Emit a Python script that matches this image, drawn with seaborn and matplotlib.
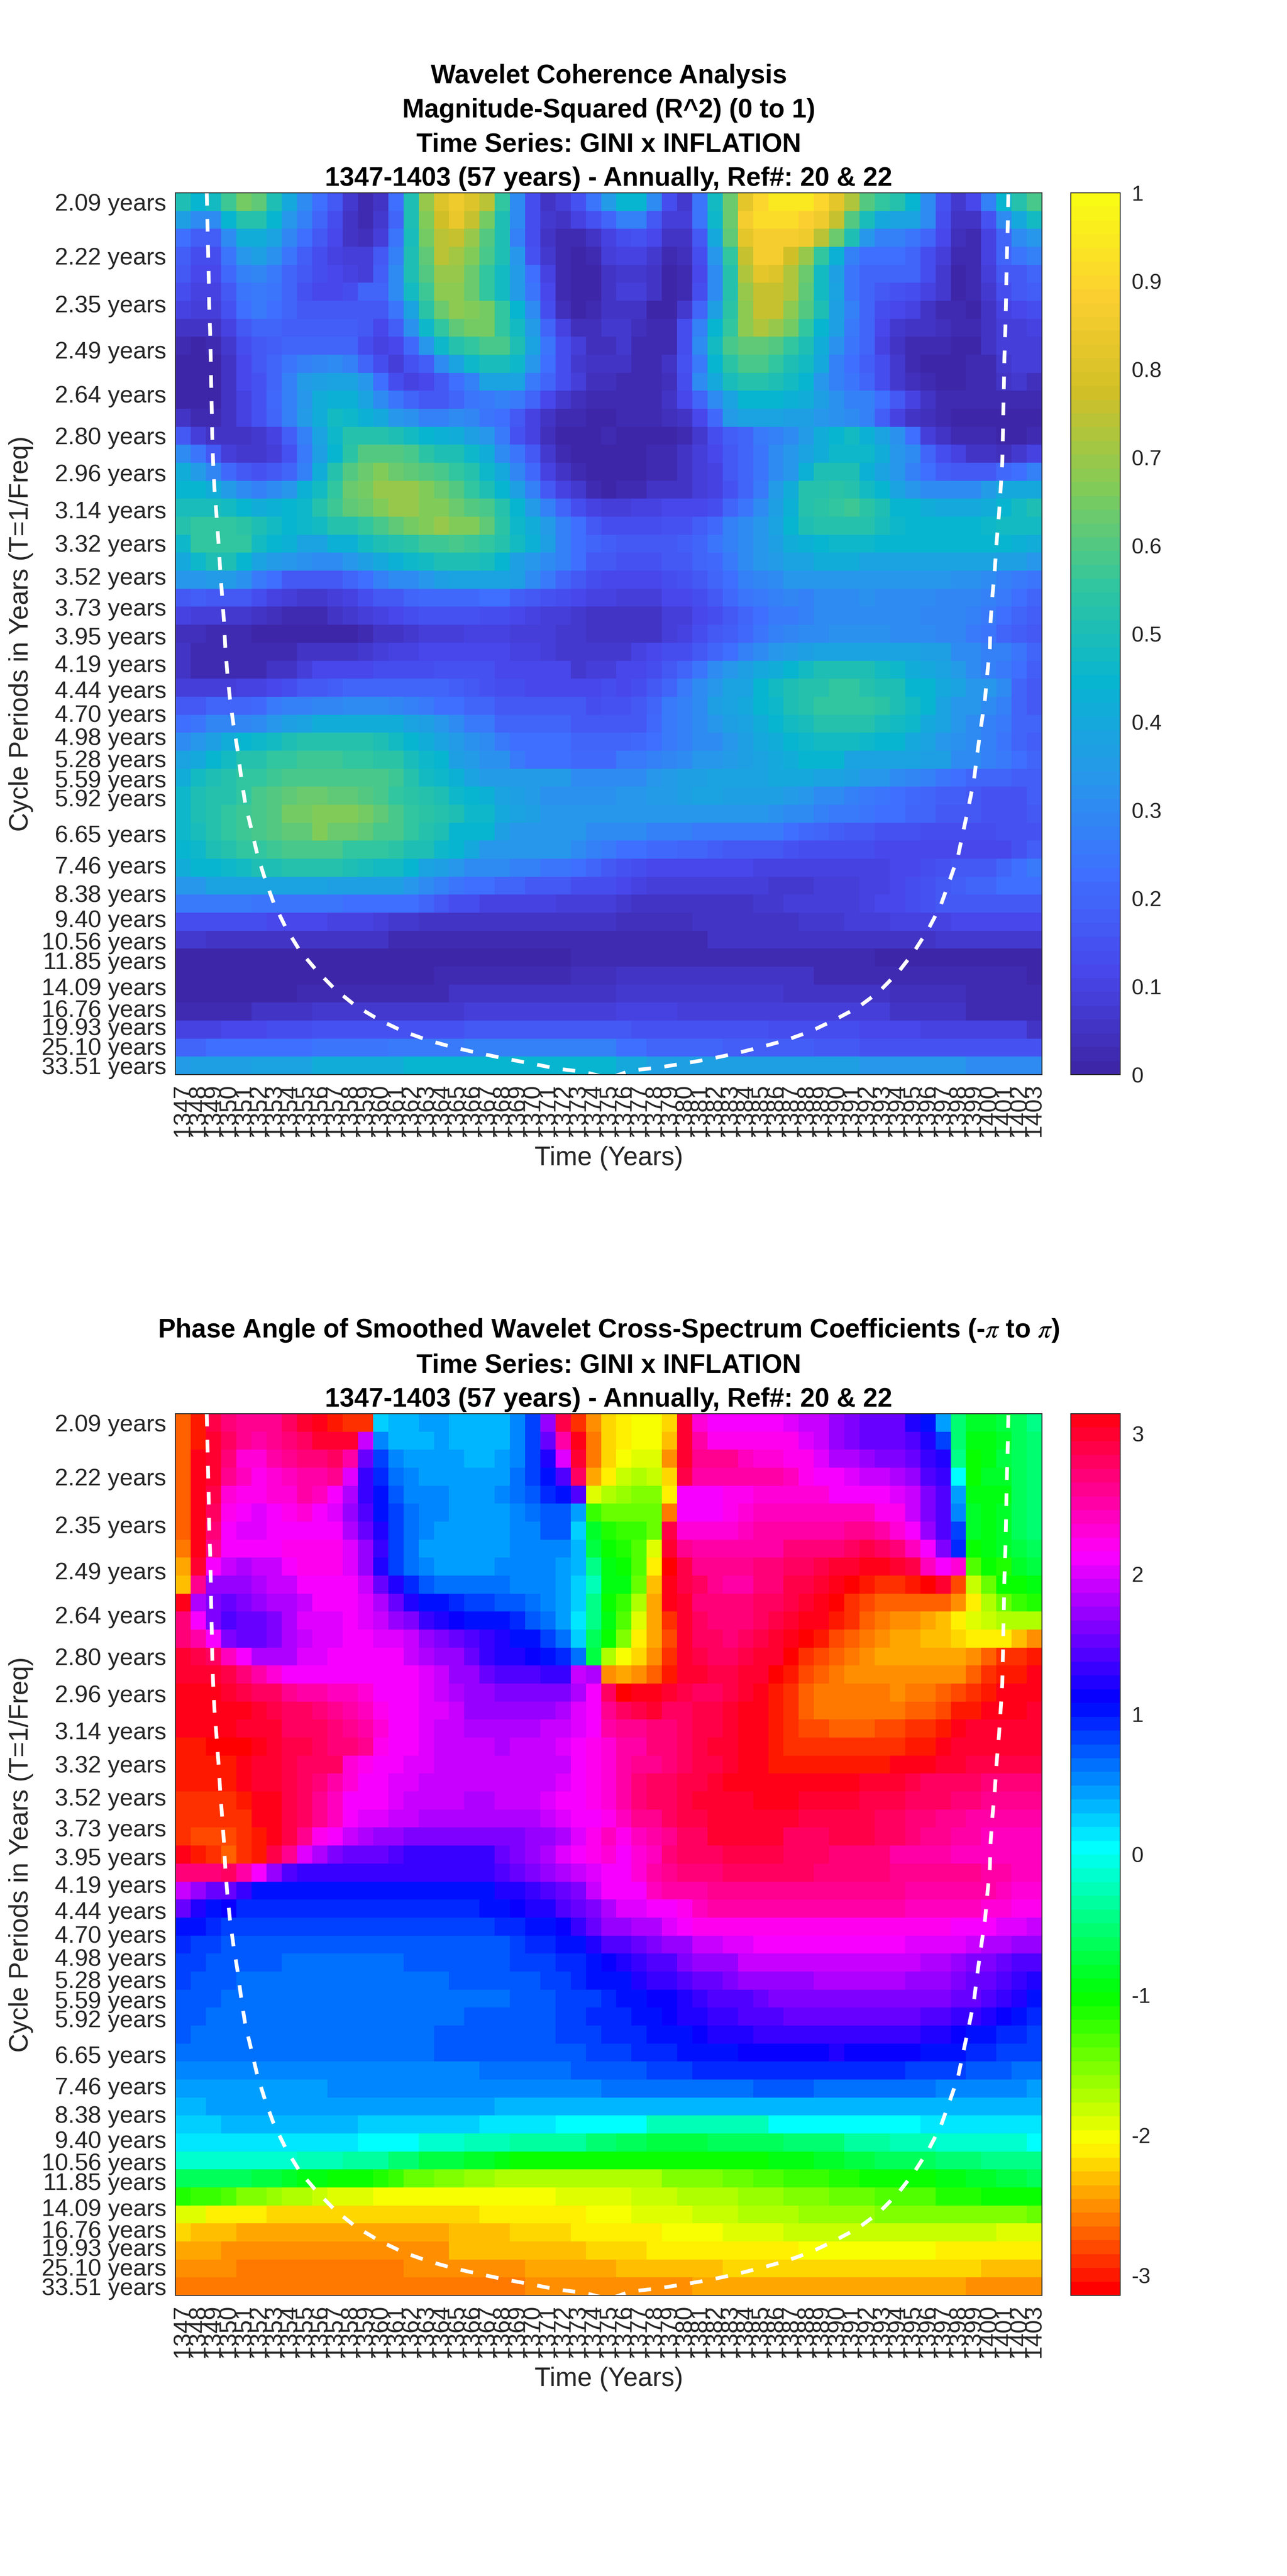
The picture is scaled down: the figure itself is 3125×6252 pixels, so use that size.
import matplotlib
matplotlib.use('Agg')
import matplotlib.pyplot as plt
import numpy as np
import pandas as pd
import seaborn as sns
from matplotlib.colors import LinearSegmentedColormap, ListedColormap, hsv_to_rgb

sns.set_style('white')
plt.rcParams['font.family'] = ['Liberation Sans', 'DejaVu Sans']
plt.rcParams['mathtext.fontset'] = 'stix'

YEARS = list(range(1347, 1404))
PERIODS = [2.09, 2.22, 2.35, 2.49, 2.64, 2.80, 2.96, 3.14, 3.32, 3.52, 3.73, 3.95, 4.19, 4.44, 4.70, 4.98, 5.28,
           5.59, 5.92, 6.27, 6.65, 7.04, 7.46, 7.90, 8.38, 8.88, 9.40, 9.96, 10.56, 11.18, 11.85, 12.55, 13.30,
           14.09, 14.93, 15.82, 16.76, 17.75, 18.81, 19.93, 21.12, 22.37, 23.70, 25.10, 26.61, 28.18, 29.86,
           31.63, 33.51]
UNLABELLED = [6.27, 7.04, 7.90, 8.88, 9.96, 11.18, 12.55, 13.30, 14.93, 15.82, 17.75, 18.81, 21.12, 22.37,
              23.70, 26.61, 28.18, 29.86, 31.63]

# cone of influence
COI_YEARS = [1348.56, 1348.61, 1348.65, 1348.69, 1348.72, 1348.78, 1348.82, 1348.85, 1348.89, 1348.92, 1348.98,
             1349.07, 1349.20, 1349.33, 1349.44, 1349.56, 1349.69, 1349.78, 1349.91, 1350.09, 1350.33, 1350.60,
             1350.82, 1351.09, 1351.51, 1351.90, 1352.43, 1352.97, 1353.79, 1354.70, 1355.80, 1356.98, 1358.35,
             1359.90, 1361.45, 1363.09, 1364.73, 1366.46, 1368.20, 1369.93, 1371.57, 1373.39, 1375.00, 1376.46,
             1378.19, 1379.92, 1381.56, 1383.30, 1384.99, 1386.67, 1388.31, 1389.86, 1391.41, 1392.78, 1394.05,
             1395.05, 1396.00, 1396.82, 1397.39, 1397.97, 1398.34, 1398.70, 1399.03, 1399.25, 1399.52, 1399.76,
             1399.92, 1400.07, 1400.12, 1400.25, 1400.40, 1400.52, 1400.67, 1400.78, 1400.89, 1400.93, 1400.96,
             1401.00, 1401.03, 1401.09, 1401.13, 1401.16, 1401.20, 1401.25, 1401.29]
COI_PERIODS = [2.07, 2.146, 2.211, 2.28, 2.354, 2.43, 2.516, 2.604, 2.702, 2.801, 2.916, 3.04, 3.166, 3.313, 3.475,
               3.64, 3.836, 4.048, 4.276, 4.544, 4.851, 5.18, 5.56, 6.023, 6.574, 7.193, 7.947, 8.76, 9.903, 11.2,
               12.64, 14.37, 16.42, 18.66, 20.96, 23.23, 25.38, 27.54, 29.92, 32.37, 35.36, 37.7, 43.0, 36.7, 34.8,
               32.37, 30.2, 27.75, 25.38, 23.23, 20.96, 18.66, 16.63, 14.67, 12.76, 11.29, 9.97, 8.88, 7.99, 7.23,
               6.574, 6.05, 5.61, 5.2, 4.82, 4.53, 4.26, 4.06, 3.84, 3.64, 3.475, 3.31, 3.166, 3.04, 2.916, 2.80,
               2.70, 2.604, 2.516, 2.43, 2.354, 2.28, 2.211, 2.146, 2.07]

# R^2 in hundredths, one row per period, one value per year
COHERENCE = [
    [50,45,47,57,65,62,51,40,31,23,17,7,3,5,22,50,70,80,85,80,74,56,30,13,5,8,15,24,35, 45,45,30,13,7,24,47,64,82,90,95,95,95,90,82,72,60,55,52,45,30,15,7,11,27,45,53,58],
    [36,30,30,44,52,52,45,34,28,20,13,5,3,7,20,50,66,77,83,75,65,50,30,13,7,5,10,15,20, 28,27,17,8,8,24,46,63,86,92,92,92,88,85,75,60,49,40,38,38,30,14,5,5,15,30,40,47],
    [22,18,18,30,42,42,38,29,22,16,11,5,4,9,24,49,65,74,75,70,60,50,28,13,6,3,3,5,10, 13,15,11,5,5,17,40,62,82,87,87,87,85,74,64,50,33,28,28,24,20,12,4,3,10,20,30,34],
    [18,14,13,24,33,36,32,24,18,13,10,8,8,16,28,50,62,74,71,66,58,50,33,15,7,3,1,3,8, 10,10,7,2,4,14,33,56,76,86,86,78,70,56,43,27,22,22,22,20,14,9,2,3,10,20,24,28],
    [16,12,12,21,27,29,26,20,17,13,11,10,9,18,30,50,60,70,70,64,56,48,35,22,10,2,0,0,6, 7,7,5,0,3,12,30,52,72,82,80,73,64,48,37,24,20,20,20,19,14,7,1,3,9,16,17,20],
    [14,10,10,17,24,26,24,19,15,11,11,14,20,20,31,48,57,68,68,64,56,47,35,24,12,3,0,0,5, 9,9,5,1,2,13,30,52,70,76,76,72,62,48,38,24,20,16,15,13,10,7,1,3,7,13,16,18],
    [10,8,8,15,22,25,23,19,16,16,16,16,16,17,24,38,54,63,68,67,65,55,44,30,14,4,1,2,5, 6,5,1,0,7,20,37,54,68,75,75,68,60,50,36,27,20,14,11,10,6,3,3,1,6,10,12,14],
    [6,5,6,10,16,20,19,18,18,18,18,18,16,12,18,32,46,55,62,65,65,56,48,35,20,10,4,4,7, 7,4,2,3,13,28,45,55,68,72,70,65,55,45,36,26,20,12,7,6,5,4,2,2,5,8,9,10],
    [3,1,3,7,13,17,18,20,20,20,20,19,14,10,12,21,33,46,52,55,58,58,50,38,24,14,8,4,4, 7,3,3,3,14,30,47,58,62,62,60,55,50,42,32,24,20,10,5,3,2,2,0,0,5,8,9,8],
    [0,0,1,6,12,17,19,24,28,29,30,28,19,13,9,15,18,30,38,46,49,49,46,33,22,13,7,5,5, 5,3,3,6,15,26,45,54,58,58,56,51,48,40,28,22,18,13,7,2,0,0,0,2,3,7,8,8],
    [0,0,1,6,12,15,20,27,35,37,39,38,33,22,14,10,12,16,22,28,39,39,38,26,19,13,8,4,4, 3,3,3,4,14,30,40,49,53,53,50,47,45,34,28,24,20,14,7,4,2,1,1,2,2,5,7,4],
    [0,0,1,5,10,15,21,28,34,41,43,43,38,31,24,19,17,17,20,24,26,27,26,19,11,7,4,2,2, 3,3,3,5,12,19,31,38,45,45,45,43,41,36,32,28,27,22,17,10,5,2,2,2,2,2,2,2],
    [6,3,3,6,10,15,20,28,35,42,48,46,43,40,34,32,27,28,30,29,24,22,17,10,5,3,2,1,1, 2,2,2,4,6,12,21,35,38,38,38,37,36,33,32,30,27,18,10,6,4,3,1,0,0,0,0,0],
    [16,9,6,5,5,7,10,18,28,38,46,53,53,53,50,48,45,43,42,37,34,26,15,10,4,0,0,0,3, 0,0,1,1,3,7,13,18,20,25,27,30,35,42,45,47,43,38,32,22,9,5,3,3,2,0,0,3],
    [31,24,17,9,7,7,8,15,26,36,45,54,60,60,60,58,54,51,50,46,42,31,24,16,7,2,1,0,0, 0,0,2,2,5,8,12,16,20,24,30,33,39,42,46,46,46,42,34,30,20,13,10,6,6,4,7,10],
    [41,35,29,21,17,15,16,19,28,42,53,60,64,67,63,62,60,58,55,52,46,40,29,21,10,5,3,1,0, 0,0,3,3,5,8,10,16,20,24,30,34,43,50,50,50,43,38,33,27,22,18,17,17,16,21,23,27],
    [45,45,42,35,30,28,31,33,43,48,56,63,65,69,70,70,67,64,60,55,50,44,36,28,17,10,7,3,0, 3,3,5,5,6,9,10,15,20,25,35,42,52,53,54,53,48,44,38,33,31,31,31,31,35,40,40,40],
    [49,49,49,47,44,42,43,45,46,53,57,61,63,67,70,70,67,66,64,60,58,53,44,35,27,20,13,10,8, 9,10,10,11,11,12,13,20,24,30,37,43,52,54,56,57,54,50,45,44,42,40,40,40,42,44,47,50],
    [53,55,56,55,54,50,47,44,46,48,52,53,56,58,62,65,66,70,66,66,62,54,46,42,35,27,22,17,14, 14,14,14,15,15,18,21,27,30,33,38,44,50,52,53,53,52,49,46,44,44,44,44,44,46,48,48,48],
    [46,55,56,56,55,48,45,43,39,39,43,43,47,50,53,54,57,57,58,57,55,53,47,43,36,28,23,20,18, 17,16,16,17,18,20,24,28,30,33,37,42,43,45,46,46,46,45,45,45,44,44,44,44,44,45,43,42],
    [40,46,50,50,45,38,35,33,32,31,31,33,36,40,43,46,47,50,50,50,49,45,37,34,31,27,22,17,16, 15,15,15,16,17,19,21,25,30,33,35,38,38,41,41,41,39,39,39,39,39,39,39,38,38,37,36,34],
    [33,34,35,35,32,26,22,17,16,16,17,19,23,27,30,31,33,36,38,38,38,38,36,31,25,19,16,13,12, 12,12,11,13,15,17,19,23,27,29,31,33,33,33,34,34,34,34,33,33,33,33,32,32,30,28,26,24],
    [17,18,17,17,16,13,10,8,7,7,9,10,14,16,17,19,21,21,21,21,22,22,18,16,15,13,12,10,10, 9,8,9,11,12,14,17,21,24,26,27,29,28,30,31,31,32,31,31,31,30,29,29,29,27,25,22,20],
    [10,9,8,7,7,5,4,2,2,3,5,7,8,10,12,14,15,15,15,15,14,13,12,10,9,8,7,6,6, 6,6,6,8,9,12,14,16,20,22,25,26,28,30,31,31,31,31,31,30,29,29,29,27,25,23,20,18],
    [4,4,3,2,2,1,1,0,0,0,1,1,3,5,6,7,8,9,9,10,10,10,9,8,8,7,7,6,6, 6,6,6,8,10,13,16,18,21,24,27,29,31,31,32,32,32,32,31,31,30,29,29,26,24,20,18,16],
    [5]+[2]*7+[5]*4+[7,8,10,10]+[12]*5+[11,10,10,8]+[7]*4+[7,10,12,13,14,17,20,23,27,31,34,35,37,38,38,38,38,38,38,38,37,37,31,30,28,27,24,20],
    [5]+[3]*5+[6]*2+[8]+[11]*4+[13]+[14]*3+[15]*4+[12]*2+[11]*3+[7]+[9]*2+[11,11,14,16,20,24,30,33,37,40,42,45,47,50,50,50,50,47,46,42,40,39,35,31,27,26,22,18],
    [8]*4+[10]*2+[12,14]+[17]*2+[18]+[19]*7+[18,16,15]+[13]*2+[12]*5+[14]+[12,13,16,20,25,30,34,38,39,45,47,51,53,53,55,55,52,50,50,45,45,40,38,34,33,31,20,17],
    [16]*2+[19]*2+[20,21,25,27,27,29,29]+[31]*3+[29,28,26,23,23,20,20]+[17]*5+[16,14,15]+[15,16,20,25,28,31,36,38,40,45,46,50,52,55,55,55,55,54,50,47,45,38,34,33,30,28,20,17],
    [22,24,29,29,29,31,34,36,39]+[41]*6+[38,36,33,30,25,25,20,20]+[19]*3+[17]*3+[17,17,21,25,28,31,33,36,39,41,45,47,49,52,52,52,52,49,47,46,40,38,33,30,28,26,20,19],
    [30,33,36,41,44,46,48,50]+[53]*5+[50,47,44,42,38,35,32,30,25,23]+[22]*3+[20]*3+[20,21,23,25,28,30,31,33,36,40,42,44,46,47,47,47,46,45,45,40,38,33,32,30,28,24,20,18],
    [38,40,45,47,52,53,55,55]+[57]*3+[56,56,54,54,49,46,45,36,35,32,32,25]+[22]*3+[21]*3+[25,25,28,29,30,33,34,35,37,38,40,42,44,45,44,39,39,39,39,38,37,36,30,30,28,26,22,19],
    [42,47,50,53,55,56,57]+[59]*4+[58]*3+[57,53,47,46,43,38]+[35]*6+[30]*3+[30,30,33,35,36,36,38,38,39,39,40,40,40,39,38,36,34,33,30,29,27,24,22,20,19,19,18,18],
    [46,50,52,53,56,58,60,61,64,64,62,62,60,59,56,54,52,50,46,45,43,39,37,35]+[32]*5+[34,34,35,35,36,38,38,37,37,37,36,35,33,31,30,27,25,24,22,21,20,18,18,16,15,15,15,18],
    [46,50,53,55,57,59,60,65,65,66,66,66,65,61,59,56,54,52,50,46,46,40,38,36]+[33]*5+[34]*7+[33,33,33,32,30,30,28,26,26,24,22,22,20,19,17,16,16,15,15,15,17],
    [46,49,52,55,57,59,60,62,62,66,63,63,62,59,58,55,52,50,45,44,44,37,34,34,34,34,33,31,31]+[31,30,27,27,27,26,25,25,25,25,25,22,21,20,18,16,16,15,15,15,14,13,13,13,13,15,15,15],
    [44,46,50,52,55,56,57,58,58,58,58,56,56,55,54,51,50,46,44,40,33,33,33,33,33,33,30,27,25]+[23,23,21,21,19,19,18,17,17,16,16,15,13,13,13,13,13,12,12,12,12,12,11,11,12,12,15,18],
    [41,44,45,46,47,50,50,52,52,52,52,50,49,47,47,44,39,36,33,31,30,30,27,27,24,24,22,20,16]+[15,14,12,11,11,11,11,11,11,10,10,10,10,10,10,10,10,10,11,12,13,15,16,17,17,20,22,25],
    [34,34]+[38]*8+[37]*3+[36,36,33,30,27,24,22,22,20,19,17,17,17,14,13,13]+[11,10,9,9,8,8,8,8,8,8,7,7,7,9,9,9,10,10,11,13,15,17,18,19,20,22,22,22],
    [25]*4+[26]+[24]*6+[22]*5+[20,16,14,14]+[10]*5+[8]*4+[7,6,6,6,6,6,6,6,6,7,7,8,8,9,9,9,10,11,12,14,15,16,16,17,17,17,16,17],
    [13]*6+[12]*4+[10]*3+[9]+[7]*2+[6]*4+[5]*9+[4]*5+[5]+[6]*6+[7]*3+[8]+[9]*2+[10]*4+[11]+[12]*5,
    [7]*2+[6]*7+[5]*5+[2]*11+[3]*4+[2]*6+[5]*15+[7]*7,
    [1]*5+[0]*9+[1]*12+[2]*3+[3]*17+[1]*11,
    [0]*11+[1]*6+[2]*4+[3]*5+[4]*3+[5]*13+[3]*8+[2]*6+[0],
    [1]*8+[2]*6+[3]*4+[5]*7+[6]*4+[7]*11+[6]*7+[4]*5+[2]*5,
    [3]*5+[5]*4+[7]*10+[8]*10+[10]*4+[9]*9+[8]*5+[6]*5+[3]*5,
    [10]*3+[12]*3+[14]*3+[15]*10+[16]*10+[17]+[15]*9+[14]*6+[12]*4+[10]*7+[6],
    [20]*2+[22]*7+[24]*5+[26]*5+[27]*6+[28]*4+[22]*2+[20]*5+[18]*6+[17]*3+[15]*12,
    [35]+[37]*4+[39]*4+[42]*6+[44]*14+[40]*2+[37]*7+[36]*7+[33]*7+[30]*5,
]

# phase angle in tenths of a radian, same layout
PHASE = [
    [-27,-30,29,27,26,26,26,28,30,31,-30,-29,-29,2,3,3,4,4,3,3,3,3,5,8,17,29,-29,-25,-22, -21,-20,-20,-22,30,23,21,21,21,21,21,20,19,19,17,16,15,15,15,12,10,4,-5,-8,-8,-7,-6,-4],
    [-27,-30,30,28,26,25,26,27,28,30,30,30,19,5,3,3,3,4,3,3,3,3,5,8,15,25,31,-26,-22, -21,-20,-20,-23,30,25,22,22,22,22,22,22,20,19,17,16,15,15,15,14,12,8,-5,-9,-9,-8,-6,-5],
    [-27,31,30,27,23,23,25,26,27,27,28,25,15,8,5,4,4,4,4,3,3,4,5,8,12,20,30,-26,-22, -20,-19,-19,-25,30,26,26,26,24,23,23,22,22,20,18,18,17,16,16,15,13,12,-4,-10,-9,-7,-6,-5],
    [-27,31,30,26,24,22,23,24,25,25,26,20,13,9,6,5,4,4,4,4,4,4,6,8,10,14,28,-24,-21, -18,-17,-18,-22,29,25,25,25,25,25,25,24,22,21,21,20,19,19,18,17,14,13,0,-10,-8,-8,-6,-5],
    [-27,31,29,23,22,22,23,23,25,24,21,18,13,10,7,5,5,5,4,4,4,5,6,7,9,10,14,-19,-17, -16,-15,-15,-21,21,21,21,22,22,23,23,23,23,23,21,21,21,21,20,19,16,14,4,-9,-9,-9,-6,-5],
    [-27,31,28,22,21,20,21,22,23,21,20,17,14,10,8,6,5,5,4,4,4,4,5,6,7,7,4,-12,-14, -14,-14,-14,-26,21,21,21,22,23,24,24,24,24,24,24,24,24,22,22,19,16,14,5,-8,-9,-8,-6,-5],
    [-27,31,27,21,20,20,21,21,21,21,21,18,15,12,8,6,5,4,4,4,4,4,5,5,7,7,2,-8,-11, -12,-12,-14,29,23,23,23,23,24,25,25,25,25,25,25,26,26,25,23,21,17,14,8,-8,-9,-8,-6,-5],
    [-26,31,26,21,21,21,21,22,22,22,22,20,17,13,8,6,4,4,4,4,4,4,5,5,5,5,3,-7,-10, -11,-13,-19,30,26,25,25,25,25,25,25,27,27,27,27,28,29,28,27,24,21,16,9,-10,-9,-8,-7,-6],
    [-24,30,21,19,18,19,19,21,22,22,22,20,17,12,8,6,5,4,4,4,4,5,5,5,5,4,3,-4,-9, -10,-13,-21,-31,29,26,26,26,26,27,27,28,28,29,30,30,31,31,30,29,24,21,23,-13,-10,-11,-8,-7],
    [-23,26,17,17,17,18,19,19,21,21,21,21,19,15,12,9,7,6,6,6,6,6,5,5,5,4,2,-2,-9, -9,-14,-23,31,29,28,26,25,25,27,27,29,29,30,31,-31,-30,-29,-29,-30,-31,30,-28,-18,-14,-10,-10,-9],
    [31,18,16,15,16,17,18,18,19,21,21,21,20,18,15,12,10,10,9,8,8,7,7,6,5,4,2,-4,-10, -12,-17,-24,31,30,27,27,27,27,28,28,29,30,31,-31,-29,-28,-27,-27,-27,-27,-27,-25,-21,-17,-14,-12,-11],
    [27,21,16,14,15,15,16,18,20,20,20,21,20,19,17,16,13,12,11,10,10,10,9,7,6,4,1,-4,-9, -13,-19,-24,-29,30,28,27,27,27,28,29,30,31,31,-30,-29,-27,-26,-25,-25,-24,-23,-21,-19,-18,-17,-17,-17],
    [27,25,21,16,15,15,16,18,19,20,20,21,21,20,20,19,17,16,15,14,13,12,10,10,8,6,2,-6,-10, -15,-21,-24,-28,30,28,28,27,28,29,30,31,-31,-30,-28,-27,-26,-25,-24,-24,-23,-23,-22,-21,-21,-21,-23,-25],
    [30,29,28,24,21,18,18,18,20,20,21,21,21,21,21,19,18,17,17,15,13,12,12,11,10,9,6,-7,-17, -20,-22,-25,-29,30,29,28,28,29,30,30,-31,-29,-28,-27,-26,-25,-24,-24,-24,-24,-24,-24,-25,-27,-29,-29,-30],
    [30,30,30,29,27,25,23,21,21,21,21,21,21,21,21,21,20,19,17,17,15,14,14,14,13,13,19,18,-25, -24,-25,-27,-30,30,30,29,29,30,30,-31,-30,-28,-27,-26,-25,-25,-25,-25,-25,-25,-25,-25,-27,-29,-30,-30,31],
    [31,31,31,30,29,28,28,26,25,25,24,24,23,21,21,21,20,19,18,17,17,16,16,16,16,16,18,21,28, -31,31,31,30,29,28,28,29,30,31,-30,-29,-27,-26,-26,-26,-26,-26,-25,-26,-26,-27,-28,-29,-30,31,31,31],
    [31,31,31,31,31,30,29,28,28,27,26,25,24,22,21,21,20,20,19,17,17,17,17,17,17,18,20,21,26, 28,29,30,28,28,29,29,30,31,31,-30,-29,-27,-26,-26,-26,-26,-26,-26,-27,-27,-28,-30,-30,31,31,31,30],
    [31,31,31,31,30,30,30,28,28,28,27,26,25,23,21,21,20,19,19,18,18,18,18,18,19,19,20,21,25, 26,26,27,27,28,29,29,30,31,31,-30,-29,-28,-28,-27,-27,-27,-28,-28,-29,-29,-30,31,30,30,30,30,30],
    [-30,-30,-31,-31,-31,31,30,29,29,28,27,27,26,22,21,21,20,19,19,19,19,18,19,19,19,20,21,22,23, 25,25,27,27,28,29,30,30,31,31,-30,-29,-29,-29,-29,-29,-29,-29,-29,-30,-30,31,30,30,30,30,30,30],
    [-30,-30,-30,-30,31,30,30,29,28,28,28,23,22,21,21,20,20,19,19,19,19,19,19,19,19,19,21,22,23, 25,26,26,27,28,29,29,30,31,31,-30,-30,-30,-30,-30,-30,-30,-30,31,31,31,30,30,29,29,29,29,29],
    [-30,-30,-30,-30,31,30,30,29,28,27,25,23,21,21,20,20,19,19,19,19,19,19,19,19,19,20,21,22,23, 25,27,28,28,29,29,30,31,31,31,31,31,31,31,31,31,30,30,30,29,28,28,28,28,27,27,27,27],
    [-29,-29,-29,-29,-30,31,31,29,28,26,24,21,21,21,20,19,19,19,19,18,18,19,19,19,20,21,21,22,23, 25,27,28,28,29,30,30,30,30,31,31,31,30,30,30,30,29,29,29,28,28,28,27,27,26,26,26,26],
    [-29,-29,-29,-29,-29,31,31,29,28,26,24,21,20,20,19,19,18,18,18,18,18,18,18,18,19,20,21,21,22, 24,26,26,28,29,29,30,30,30,30,30,30,29,29,29,29,29,28,28,27,27,26,26,25,25,25,25,25],
    [-29,-28,-28,-28,-29,-30,31,29,26,22,21,19,18,17,17,16,16,16,16,16,16,16,16,17,17,18,20,22,24, 22,24,25,26,28,28,30,30,30,30,30,28,28,28,29,29,29,28,28,27,26,26,25,25,24,24,24,24],
    [31,-30,-29,-27,-29,-30,29,26,20,18,16,15,15,15,14,13,13,13,13,13,13,15,16,17,18,20,21,22,23, 21,23,24,27,28,28,28,29,29,29,29,28,28,28,27,27,27,27,25,25,25,25,24,24,24,24,24,24],
    [27,27,27,28,25,21,17,14]+[13]*13+[14,15,16,17,18,19,20,21]+[21,23,25,26,27,27,27,28,28,28,28,28,28,27,27,27,27,27,26,26,26,26,26,26,25,25,24,24],
    [19,17,15,15,13]+[10]*16+[12,12,13,14,15,16,19,21]+[21,21,24,25,25,25]+[26]*13+[25]*6+[24,23,23],
    [15,12,10,11]+[9]*16+[10,10,11,12,12,14,15,16,18]+[20,20,21,21,22,24]+[25]*13+[24,24,24,24,24,23,23,22,22],
    [10,10,9]+[8]*18+[9,9,10,10,11,13,15,17]+[17,18,18,20,21,22]+[22]*16+[21,21,21,20,20,19],
    [9,8,8]+[7]*18+[7,8,9,9,10,10,12,14]+[14,15,16,17,17,19,19,20,20]+[21]*10+[20,20,20,20,19,18,18,17,17],
    [8,8]+[7]*5+[6]*8+[7]*7+[8,8,8,9,9,10,11]+[12,13,14,14,16,17,17,17,19]+[19]*11+[18,18,17,16,16,15,14,14],
    [8,7,7,7]+[6]*14+[7]*6+[8,8,9,10,10]+[10,12,13,13,14,15,15,16,17]+[17]*4+[18]*6+[17]*3+[16,15,15,14,13,12],
    [7,7,7]+[6]*19+[7,7,7,8,8,8,9]+[10,10,11,11,12,13,14,14,14,15]+[16]*12+[15,15,14,13,12,10],
    [7,7]+[6]*17+[7]*6+[8,8,9,9]+[9,10,10,11,12,12,13,13,14,14,14]+[15]*9+[14,14,13,13,12,11,10,9],
    [7]+[6]*16+[7]*8+[8,8,8,9]+[9,9,10,10,10,11,12,12,12]+[13]*11+[12,12,11,10,10,9,9,8],
    [6]*17+[7]*10+[8,8]+[8,9,9,9,10,10,10,10,11,11,11,11,11,11,12,11,11,11,11,11,10,10,10,9,9,8,8,8],
    [5]*20+[6]*6+[7]*3+[7]*2+[8]*3+[9]*14+[8]*4+[7]*3+[6]*2,
    [4]*10+[5]*18+[6]+[6]*9+[7]*4+[6]*8+[5]*6+[4],
    [3]*2+[4]*19+[3]*8+[3]*28,
    [2]*3+[3]*9+[2]*8+[1]*5+[0]*4+[0]*2+[-2]*8+[0]*10+[1]*8,
    [1]*12+[0]*4+[-1]*3+[-2]*3+[-3]*5+[-5]*2+[-6]*2+[-7]*4+[-6]*5+[-5]*4+[-3]*3+[-2]*3+[-1]*6+[0],
    [-1]*8+[-2]*3+[-3]*3+[-5]*2+[-7]*3+[-8]*2+[-9]+[-10]*7+[-10]*10+[-9]*3+[-8]*2+[-7]*2+[-6]*4+[-5]*3+[-4]*4,
    [-6]*5+[-7]*2+[-8]+[-9]*2+[-10]*3+[-11]+[-12]+[-14]*2+[-15]*2+[-16]*2+[-17]*8+[-17]*3+[-15]*4+[-14]*2+[-13]*2+[-12]*3+[-11]*2+[-10]*5+[-9]*2+[-8]*2+[-7]*2+[-6],
    [-11]+[-12]*2+[-13]+[-15]*2+[-16]+[-17]*2+[-18]+[-19]*3+[-20]*12+[-19]*4+[-19]+[-18]*3+[-17]*4+[-16]*3+[-15]*3+[-14]*3+[-13]*4+[-11]*3+[-10]*4,
    [-19]*2+[-21]*4+[-22]*14+[-21]*7+[-20]*2+[-20]+[-19]*4+[-18]*3+[-17]*4+[-16]*5+[-15]*10+[-14],
    [-22]+[-23]*3+[-24]*14+[-23]*4+[-22]*4+[-21]*3+[-21]*3+[-20]*4+[-19]*4+[-18]*14+[-19]*3,
    [-24]*3+[-25]*15+[-23]*9+[-22]*2+[-22]*2+[-21]*10+[-20]*9+[-21]*7,
    [-25]*4+[-26]*11+[-25]*8+[-24]*6+[-23]*7+[-22]*17+[-23]*4,
    [-26]*23+[-25]*6+[-25]*5+[-24]*18+[-25]*5,
]

TITLE_TOP = 'Wavelet Coherence Analysis\nMagnitude-Squared (R^2) (0 to 1)\nTime Series: GINI x INFLATION\n1347-1403 (57 years) - Annually, Ref#: 20 & 22'
TITLE_BOTTOM = ('Phase Angle of Smoothed Wavelet Cross-Spectrum Coefficients (-$\\pi$ to $\\pi$)\n'
                'Time Series: GINI x INFLATION\n1347-1403 (57 years) - Annually, Ref#: 20 & 22')
COH_TICKS = [0, .1, .2, .3, .4, .5, .6, .7, .8, .9, 1]
COH_TICK_LABELS = ['0', '0.1', '0.2', '0.3', '0.4', '0.5', '0.6', '0.7', '0.8', '0.9', '1']
PHASE_TICKS = [-3, -2, -1, 0, 1, 2, 3]

DARK = '#262626'
W, H = 3125, 6252

parula = LinearSegmentedColormap.from_list('parula', [
    (.2422, .1504, .6603), (.2803, .2782, .9221), (.2440, .4358, .9988), (.1540, .5902, .9218),
    (.0297, .7082, .8163), (.1938, .7758, .6251), (.5044, .7993, .3480), (.8203, .7498, .1535),
    (.9892, .8136, .1885), (.9769, .9839, .0805)]).resampled(64)
hues = np.column_stack([np.arange(64) / 64, np.ones(64), np.ones(64)])
phase_cmap = ListedColormap(hsv_to_rgb(hues))


def row_pos(period):
    # the period axis is linear in frequency, first and last tick sit on cell centres
    f0, fn = 1 / PERIODS[0], 1 / PERIODS[-1]
    return 0.5 + (len(PERIODS) - 1) * (f0 - 1 / np.asarray(period)) / (f0 - fn)


def panel(fig, top, rows, scale, cmap, vmin, vmax, title, cticks, clabels):
    ax = fig.add_axes([426 / W, 1 - (top + 2140) / H, 2104 / W, 2140 / H])
    cax = fig.add_axes([2600 / W, 1 - (top + 2140) / H, 120 / W, 2140 / H])
    df = pd.DataFrame(np.array([r[:57] for r in rows], dtype=float) * scale, index=PERIODS, columns=YEARS)
    sns.heatmap(df, ax=ax, cbar_ax=cax, cmap=cmap, vmin=vmin, vmax=vmax, xticklabels=True, yticklabels=False)

    ax.plot(np.array(COI_YEARS) - YEARS[0] + 0.5, row_pos(COI_PERIODS), color='white', lw=6.5,
            linestyle=(0, (3.4, 3.6)), dash_capstyle='butt', clip_on=True)

    ax.set_yticks(row_pos(PERIODS))
    ax.set_yticklabels(['' if p in UNLABELLED else '%.2f years' % p for p in PERIODS])
    ax.set_xticklabels(YEARS, rotation=90)
    ax.tick_params(axis='both', which='both', direction='in', length=15, width=1.5, color=DARK, labelcolor=DARK,
                   labelsize=41.8, pad=16, left=True, right=True, top=True, bottom=True)
    for s in ax.spines.values():
        s.set_visible(True)
        s.set_color(DARK)
        s.set_linewidth(1.6)

    ax.set_xlabel('Time (Years)', fontsize=46, color=DARK)
    ax.xaxis.set_label_coords(0.5, -0.081)
    ax.set_ylabel('Cycle Periods in Years (T=1/Freq)', fontsize=46, color=DARK)
    ax.yaxis.set_label_coords(-0.164, 0.5)
    ax.set_title(title, fontsize=46, fontweight='bold', color='black', linespacing=1.49, pad=12)

    cbar = ax.collections[0].colorbar
    cbar.set_ticks(cticks)
    cbar.set_ticklabels(clabels)
    cax.tick_params(direction='in', length=8, width=1.5, color=DARK, labelcolor=DARK, labelsize=37.5, pad=20,
                    right=True, left=False)
    cbar.outline.set_visible(True)
    cbar.outline.set_edgecolor(DARK)
    cbar.outline.set_linewidth(1.6)
    return ax


fig = plt.figure(figsize=(W / 100, H / 100), dpi=100, facecolor='white')
panel(fig, 468, COHERENCE, 0.01, parula, 0, 1, TITLE_TOP, COH_TICKS, COH_TICK_LABELS)
panel(fig, 3431, PHASE, 0.1, phase_cmap, -np.pi, np.pi, TITLE_BOTTOM, PHASE_TICKS, [str(t) for t in PHASE_TICKS])
fig.savefig('out.png', dpi=100)
